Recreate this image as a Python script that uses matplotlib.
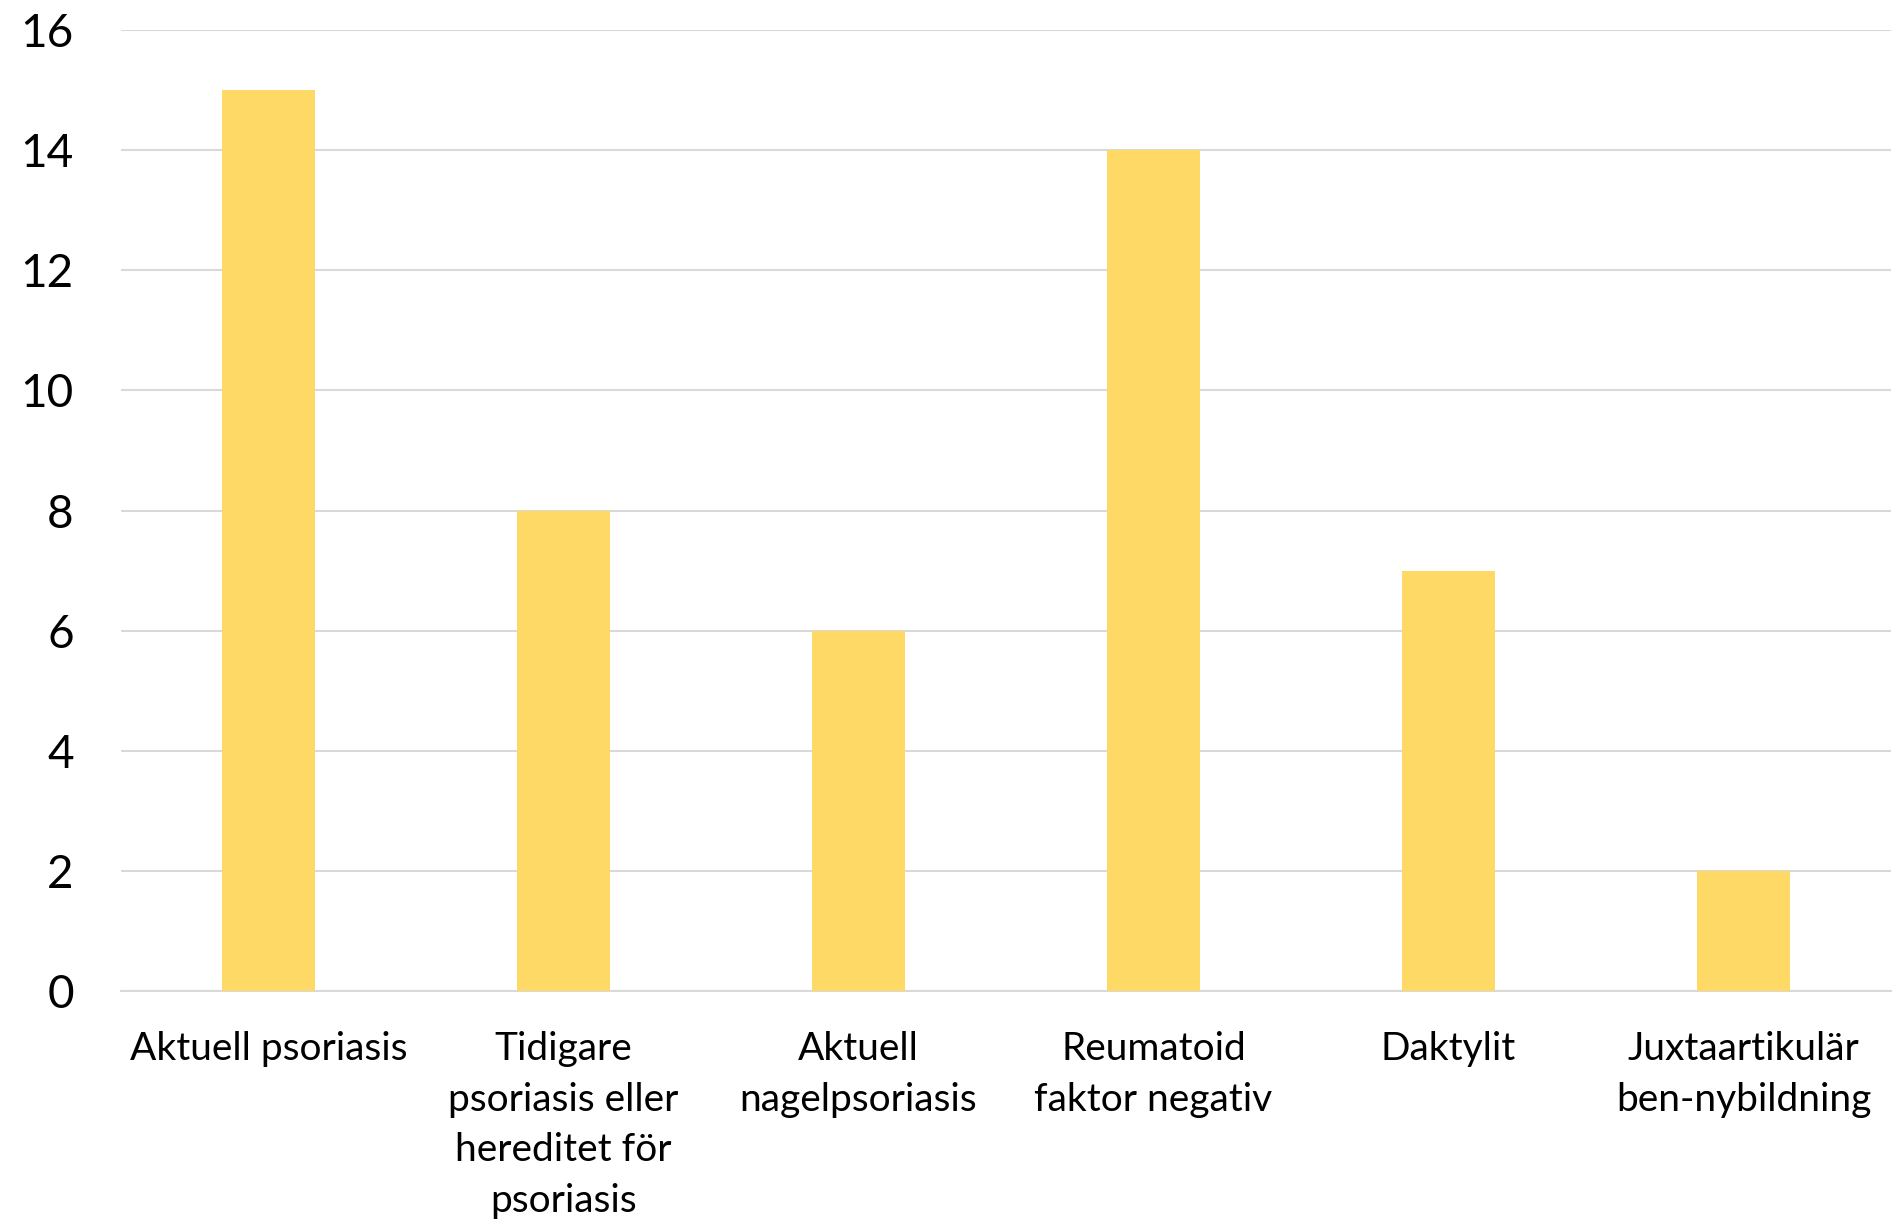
import matplotlib
matplotlib.use("Agg")
import matplotlib.pyplot as plt

categories = ["Aktuell psoriasis",
              "Tidigare\npsoriasis eller\nhereditet för\npsoriasis",
              "Aktuell\nnagelpsoriasis",
              "Reumatoid\nfaktor negativ",
              "Daktylit",
              "Juxtaartikulär\nben-nybildning"]
values = [15, 8, 6, 14, 7, 2]
yticks = [0, 2, 4, 6, 8, 10, 12, 14, 16]

plt.rcParams['font.family'] = ['Lato', 'DejaVu Sans']

fig = plt.figure(figsize=(18.95, 12.22), dpi=100)
ax = fig.add_axes([121/1895, 1 - 991/1222, (1891 - 121)/1895, (991 - 30)/1222])

x = range(len(categories))
ax.bar(x, values, width=0.315, color="#FFD966", zorder=3)
ax.set_xlim(-0.5, len(categories) - 0.5)
ax.set_ylim(0, 16)
ax.set_yticks(yticks)
ax.set_yticklabels([str(t) for t in yticks], fontsize=33)
ax.set_xticks(list(x))
ax.set_xticklabels(categories, fontsize=28, linespacing=1.5, va="top")
ax.tick_params(axis="y", length=0, pad=34)
ax.tick_params(axis="x", length=0, pad=29)
ax.grid(axis="y", color="#D9D9D9", linewidth=1.5, zorder=0)
for s in ["top", "right", "left"]:
    ax.spines[s].set_visible(False)
ax.spines["bottom"].set_color("#D9D9D9")
ax.spines["bottom"].set_linewidth(1.5)

fig.savefig("out.png", dpi=100)
